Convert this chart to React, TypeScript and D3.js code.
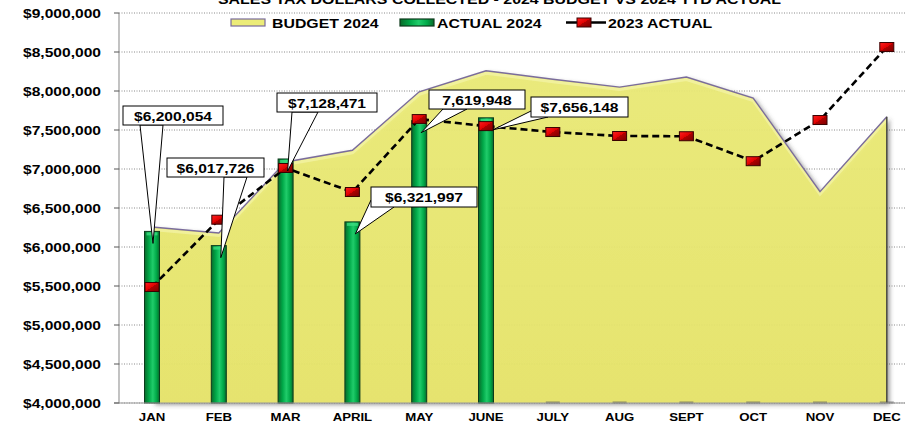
import React from 'react';
import * as d3 from 'd3';

// ---------- data ----------
const months = ['JAN', 'FEB', 'MAR', 'APRIL', 'MAY', 'JUNE', 'JULY', 'AUG', 'SEPT', 'OCT', 'NOV', 'DEC'];
const budget2024 = [6256000, 6180000, 7090000, 7240000, 7990000, 8260000, 8150000, 8050000, 8180000, 7910000, 6710000, 7670000];
const actual2024 = [6200054, 6017726, 7128471, 6321997, 7619948, 7656148, 0, 0, 0, 0, 0, 0];
const actual2023 = [5487000, 6350000, 7013000, 6705000, 7640000, 7550000, 7474000, 7423000, 7420000, 7100000, 7628000, 8564000];
const yTicks = [4000000, 4500000, 5000000, 5500000, 6000000, 6500000, 7000000, 7500000, 8000000, 8500000, 9000000];
const calloutLabels = ['$6,200,054', '$6,017,726', '$7,128,471', '$6,321,997', '7,619,948', '$7,656,148'];
const legendLabels = ['BUDGET 2024', 'ACTUAL 2024', '2023 ACTUAL'];
const titleText = 'SALES TAX DOLLARS COLLECTED - 2024 BUDGET VS 2024 YTD ACTUAL';

// ---------- layout ----------
const W = 905;
const H = 429;
const plotLeft = 119;
const plotTop = 13;
const plotBottom = 403;
const step = 66.8;
const FONT = "'Liberation Sans', Arial, sans-serif";
const SX = 1.2;

// callout boxes (layout only)
const calloutBoxes = [
  { x: 123, y: 106, w: 100, h: 19, base: [[140, 125], [163, 125]], dx: 1 },
  { x: 167, y: 158, w: 97, h: 19, base: [[224, 177], [247, 177]], dx: 2 },
  { x: 277, y: 93, w: 100, h: 19, base: [[292, 112], [318, 112]], dx: 2 },
  { x: 371, y: 187, w: 106, h: 20, base: [[371, 200], [394, 207]], dx: 3 },
  { x: 429, y: 90, w: 96, h: 19, base: [[443, 109], [467, 109]], dx: 2 },
  { x: 531, y: 97, w: 97, h: 20, base: [[531, 111], [548, 117]], dx: 7 },
];

const x = d3.scaleBand<string>().domain(months).range([plotLeft - 0.4, plotLeft - 0.4 + step * 12]).padding(0);
const cx = (m: string) => (x(m) as number) + x.bandwidth() / 2;
const y = d3.scaleLinear().domain([4000000, 9000000]).range([plotBottom, plotTop]);
const fmt = d3.format('$,');

const T = ({ x: tx, y: ty, anchor = 'start', size = 13, children, sx = SX, fill = '#000' }: any) => (
  <text
    transform={`translate(${tx},${ty}) scale(${sx},1)`}
    textAnchor={anchor}
    fontFamily={FONT}
    fontWeight="bold"
    fontSize={size}
    fill={fill}
  >
    {children}
  </text>
);

export default function App() {
  const areaGen = d3
    .area<number>()
    .x((_, i) => cx(months[i]))
    .y0(plotBottom)
    .y1((d) => y(d));
  const topLine = d3
    .line<number>()
    .x((_, i) => cx(months[i]))
    .y((d) => y(d));
  const barW = 15;
  const mW = 14;
  const mH = 9;

  return (
    <svg
      width={W}
      height={H}
      style={{ position: 'absolute', left: 0, top: 0, background: '#fff' }}
    >
      <defs>
        <linearGradient id="barGrad" x1="0" y1="0" x2="1" y2="0">
          <stop offset="0" stopColor="#0A6A2A" />
          <stop offset="0.3" stopColor="#00A848" />
          <stop offset="0.55" stopColor="#20CC6A" />
          <stop offset="0.8" stopColor="#00A848" />
          <stop offset="1" stopColor="#0A6A2A" />
        </linearGradient>
        <linearGradient id="mkGrad" x1="0" y1="0" x2="1" y2="1">
          <stop offset="0" stopColor="#FF2020" />
          <stop offset="0.5" stopColor="#E00000" />
          <stop offset="0.5" stopColor="#B00000" />
          <stop offset="1" stopColor="#7A0000" />
        </linearGradient>
        <linearGradient id="areaGrad" x1="0" y1="0" x2="0" y2="1">
          <stop offset="0" stopColor="#ECEC78" />
          <stop offset="1" stopColor="#E8E66A" />
        </linearGradient>
        <filter id="shadow" x="-5%" y="-5%" width="115%" height="115%">
          <feDropShadow dx="3" dy="2" stdDeviation="2" floodColor="#444" floodOpacity="0.55" />
        </filter>
      </defs>

      {/* title (cut off at top) */}
      <text
        x={218}
        y={4}
        fontFamily={FONT}
        fontWeight="bold"
        fontSize={13}
        textLength={563}
        lengthAdjust="spacingAndGlyphs"
      >
        {titleText}
      </text>

      {/* gridlines */}
      {yTicks.map((t) => (
        <line
          key={'g' + t}
          x1={plotLeft}
          x2={W}
          y1={y(t)}
          y2={y(t)}
          stroke="#8a8a8a"
          strokeWidth={1}
          strokeDasharray="1,1.5"
        />
      ))}

      {/* budget area */}
      <path d={areaGen(budget2024) as string} fill="url(#areaGrad)" fillOpacity={0.92} filter="url(#shadow)" />
      <path d={topLine(budget2024) as string} fill="none" stroke="#F4F4A8" strokeWidth={3} transform="translate(0,2.5)" opacity={0.7} />
      <path d={topLine(budget2024) as string} fill="none" stroke="#7A6C9C" strokeWidth={1.4} />
      <line
        x1={cx('DEC')}
        x2={cx('DEC')}
        y1={y(budget2024[11])}
        y2={plotBottom}
        stroke="#4a4a40"
        strokeWidth={1.5}
      />

      {/* actual 2024 bars */}
      {actual2024.map((v, i) => {
        const m = months[i];
        if (v <= 4000000) {
          return (
            <rect key={'b' + m} x={cx(m) - 7} y={plotBottom - 1.5} width={14} height={2} fill="#555" opacity={0.6} />
          );
        }
        const top = y(v);
        return (
          <g key={'b' + m}>
            <rect x={cx(m) - barW / 2} y={top} width={barW} height={plotBottom - top} fill="url(#barGrad)" stroke="#0C3A1C" strokeWidth={1} />
            <rect x={cx(m) - barW / 2 + 2} y={top + 1} width={barW - 4} height={3} fill="#3BDB80" opacity={0.8} />
          </g>
        );
      })}

      {/* 2023 line */}
      <path
        d={topLine(actual2023) as string}
        fill="none"
        stroke="#000"
        strokeWidth={2.6}
        strokeDasharray="7,4"
      />
      {actual2023.map((v, i) => (
        <rect
          key={'m' + i}
          x={cx(months[i]) - mW / 2}
          y={y(v) - mH / 2}
          width={mW}
          height={mH}
          fill="url(#mkGrad)"
          stroke="#3A0000"
          strokeWidth={1}
        />
      ))}

      {/* callouts */}
      {calloutBoxes.map((b, i) => {
        const m = months[i];
        const tipX = cx(m) + b.dx;
        const tipY = y(actual2024[i]) + 12;
        return (
          <g key={'c' + i}>
            <polygon
              points={`${b.base[0][0]},${b.base[0][1]} ${tipX},${tipY} ${b.base[1][0]},${b.base[1][1]}`}
              fill="#fff"
              stroke="#000"
              strokeWidth={1}
            />
            <rect x={b.x} y={b.y} width={b.w} height={b.h} fill="#fff" stroke="#000" strokeWidth={1} />
            <T x={b.x + b.w / 2} y={b.y + b.h / 2 + 5} anchor="middle" size={13}>
              {calloutLabels[i]}
            </T>
          </g>
        );
      })}

      {/* axes */}
      <line x1={plotLeft} x2={plotLeft} y1={plotTop} y2={plotBottom} stroke="#9a9a9a" strokeWidth={1.2} />
      <line x1={plotLeft - 5} x2={W} y1={plotBottom} y2={plotBottom} stroke="#9a9a9a" strokeWidth={1.2} />
      {yTicks.map((t) => (
        <g key={'t' + t}>
          <line x1={plotLeft - 5} x2={plotLeft} y1={y(t)} y2={y(t)} stroke="#555" strokeWidth={1} />
          <T x={101} y={y(t) + 4.5} anchor="end" size={13}>
            {fmt(t)}
          </T>
        </g>
      ))}
      {months.map((m) => (
        <T key={'x' + m} x={cx(m)} y={421} anchor="middle" size={11}>
          {m}
        </T>
      ))}

      {/* legend */}
      <rect x={231} y={19} width={34} height={7} fill="#ECEC78" stroke="#7A6C9C" strokeWidth={1.2} />
      <T x={272} y={27.5} size={13} sx={1.22}>{legendLabels[0]}</T>
      <rect x={400} y={19} width={34} height={7} fill="url(#barGrad)" stroke="#0C3A1C" strokeWidth={1.2} />
      <T x={437} y={27.5} size={13} sx={1.22}>{legendLabels[1]}</T>
      <line x1={566} x2={606} y1={22.5} y2={22.5} stroke="#000" strokeWidth={2.6} />
      <rect x={577} y={18} width={14} height={9} fill="url(#mkGrad)" stroke="#3A0000" strokeWidth={1} />
      <T x={608} y={27.5} size={13} sx={1.22}>{legendLabels[2]}</T>
    </svg>
  );
}
